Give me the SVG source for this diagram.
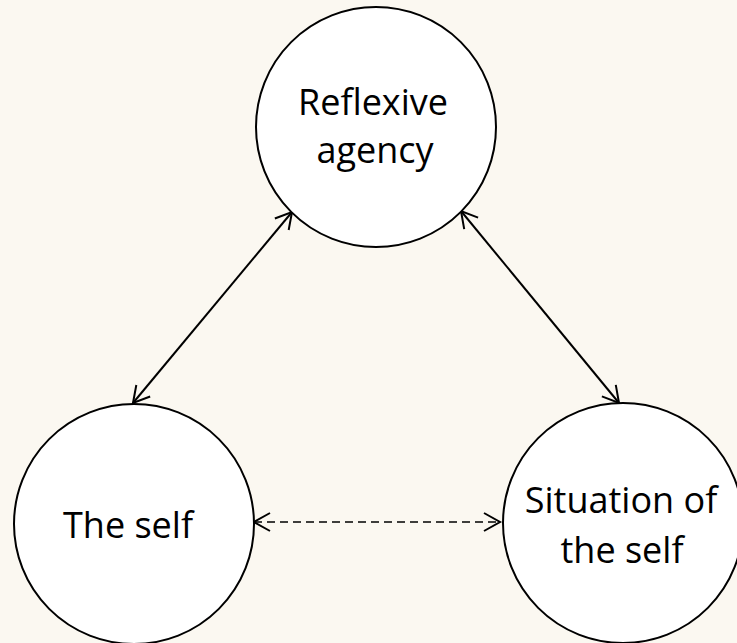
<svg xmlns="http://www.w3.org/2000/svg" width="737" height="643" viewBox="0 0 737 643">
<style>
.node circle{fill:#ffffff;stroke:#000000;stroke-width:2}
.node text{font-family:"Open Sans","Liberation Sans",sans-serif;font-size:36px;fill:#000000;text-anchor:middle}
.conn line{stroke:#000000;stroke-width:2;fill:none}
.conn .dash{stroke-dasharray:8 5;stroke-width:1.6}
</style>
<defs>
<marker id="arr" markerUnits="userSpaceOnUse" markerWidth="40" markerHeight="40" refX="0" refY="0" viewBox="-20 -20 40 40" orient="auto-start-reverse" overflow="visible">
<path d="M-16,-9 L0,0 L-16,9" fill="none" stroke="#000000" stroke-width="2"/>
</marker>
</defs>
<rect width="737" height="643" fill="#fbf8f1"/>
<g id="connectors" class="conn">
<line x1="292" y1="212" x2="133" y2="403" marker-start="url(#arr)" marker-end="url(#arr)"/>
<line x1="461" y1="211" x2="619" y2="403" marker-start="url(#arr)" marker-end="url(#arr)"/>
<line class="dash" x1="254" y1="522" x2="500" y2="522" marker-start="url(#arr)" marker-end="url(#arr)"/>
</g>
<g id="reflexive-agency" class="node">
<circle cx="376" cy="127" r="120"/>
<text x="373" y="115">Reflexive</text>
<text x="375" y="163">agency</text>
</g>
<g id="the-self" class="node">
<circle cx="134" cy="524" r="120"/>
<text x="128" y="538">The self</text>
</g>
<g id="situation" class="node">
<circle cx="623" cy="523" r="120"/>
<text x="621" y="513">Situation of</text>
<text x="622" y="563">the self</text>
</g>
</svg>
